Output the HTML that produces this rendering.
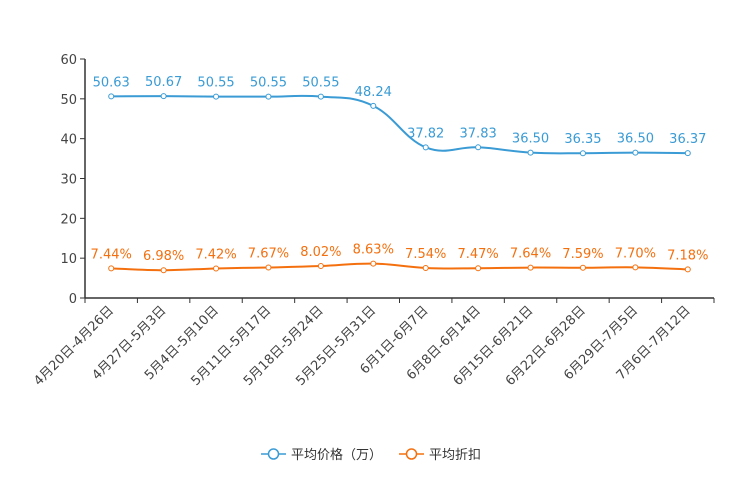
<!DOCTYPE html>
<html><head><meta charset="utf-8"><style>
body{margin:0;background:#fff;}
svg{display:block;font-family:"DejaVu Sans","Noto Sans CJK SC",sans-serif;}
</style></head><body>
<svg id="chart" width="744" height="496"></svg>
<script>
const categories=["4月20日-4月26日","4月27日-5月3日","5月4日-5月10日","5月11日-5月17日","5月18日-5月24日","5月25日-5月31日","6月1日-6月7日","6月8日-6月14日","6月15日-6月21日","6月22日-6月28日","6月29日-7月5日","7月6日-7月12日"];
const priceValues=[50.63,50.67,50.55,50.55,50.55,48.24,37.82,37.83,36.50,36.35,36.50,36.37];
const discountValues=[7.44,6.98,7.42,7.67,8.02,8.63,7.54,7.47,7.64,7.59,7.70,7.18];
const discountLabels=["7.44%","6.98%","7.42%","7.67%","8.02%","8.63%","7.54%","7.47%","7.64%","7.59%","7.70%","7.18%"];
const yTicks=[0,10,20,30,40,50,60];
const NS="http://www.w3.org/2000/svg";
const svg=document.getElementById('chart');
const x0=85,x1=714,y0=298,y1=59,yMax=60;
const bw=(x1-x0)/categories.length;
const xPos=i=>x0+bw*(i+0.5);
const yPos=v=>y0-(v/yMax)*(y0-y1);
function mk(t,a,p){const e=document.createElementNS(NS,t);for(const k in a)e.setAttribute(k,a[k]);(p||svg).appendChild(e);return e;}
let ya=mk('line',{x1:x0,y1:y1,x2:x0,y2:y0,stroke:'#333','stroke-width':1.5});


let xa=mk('line',{x1:x0,y1:y0,x2:x1,y2:y0,stroke:'#333','stroke-width':1.5});


yTicks.forEach(v=>{
 mk('line',{x1:x0-5,y1:yPos(v),x2:x0,y2:yPos(v),stroke:'#333'});
 let t=mk('text',{x:x0-8,y:yPos(v)+5,'text-anchor':'end','font-size':13,fill:'#444'});t.textContent=v;
 
 
});
for(let i=0;i<=categories.length;i++){mk('line',{x1:x0+bw*i,y1:y0,x2:x0+bw*i,y2:y0+5,stroke:'#333'});}
categories.forEach((c,i)=>{
 let t=mk('text',{transform:`translate(${xPos(i)+3},${y0+13}) rotate(-45)`,'text-anchor':'end','font-size':13,fill:'#444'});t.textContent=c;
 
 
});
function smooth(pts){
 let d=`M${pts[0][0]},${pts[0][1]}`;
 for(let i=0;i<pts.length-1;i++){
  const p0=pts[Math.max(0,i-1)],p1=pts[i],p2=pts[i+1],p3=pts[Math.min(pts.length-1,i+2)];
  const k=0.2;
  const c1=[p1[0]+(p2[0]-p0[0])*k,p1[1]+(p2[1]-p0[1])*k];
  const c2=[p2[0]-(p3[0]-p1[0])*k,p2[1]-(p3[1]-p1[1])*k];
  d+=`C${c1[0]},${c1[1]} ${c2[0]},${c2[1]} ${p2[0]},${p2[1]}`;
 }
 return d;
}
function series(vals,labels,color,name){
 const pts=vals.map((v,i)=>[xPos(i),yPos(v)]);
 let p=mk('path',{d:smooth(pts),fill:'none',stroke:color,'stroke-width':2});
 
 
 pts.forEach((q,i)=>{
  let c=mk('circle',{cx:q[0],cy:q[1],r:2.5,fill:'#fff',stroke:color,'stroke-width':1});
  
  
  let t=mk('text',{x:q[0],y:q[1]-10,'text-anchor':'middle','font-size':13,fill:color});t.textContent=labels[i];
  
  
 });
}
series(priceValues,priceValues.map(v=>v.toFixed(2)),'#3a9bd5','price');
series(discountValues,discountLabels,'#f4700f','discount');
function legend(x,color,label,name){
 let g=mk('g',{});
 
 
 mk('line',{x1:x,y1:454,x2:x+25,y2:454,stroke:color,'stroke-width':1.5},g);
 mk('circle',{cx:x+12.5,cy:454,r:5,fill:'#fff',stroke:color,'stroke-width':1.5},g);
 let t=mk('text',{x:x+30,y:459,'font-size':13,fill:'#333'},g);t.textContent=label;
}
legend(261,'#3a9bd5','平均价格（万）','legend-price');
legend(399,'#f4700f','平均折扣','legend-discount');
</script>
</body></html>
